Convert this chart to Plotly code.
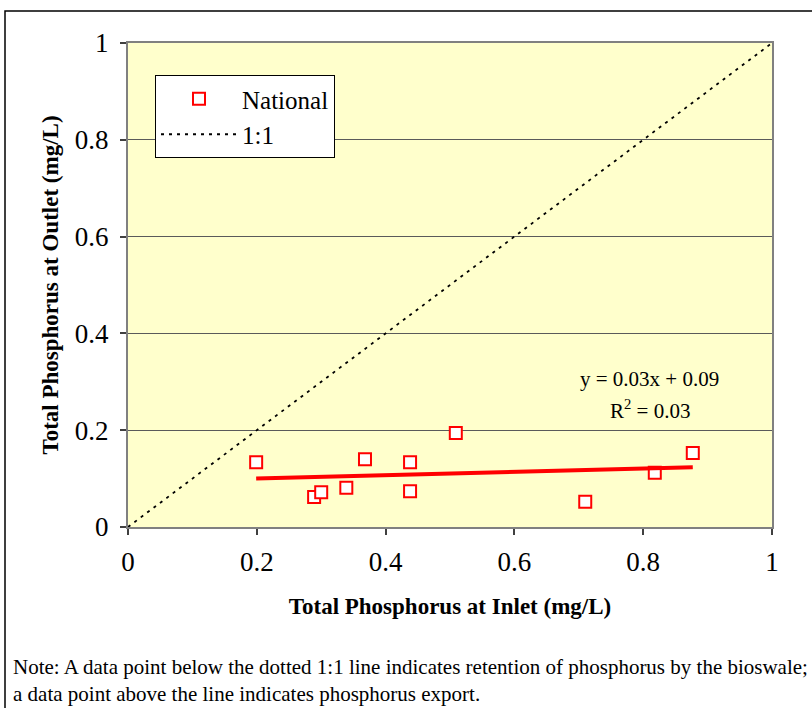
import numpy as np
import plotly.graph_objects as go

# Bioswale total phosphorus, inlet vs outlet concentration (mg/L)
inlet_tp = [0.199, 0.289, 0.300, 0.339, 0.368, 0.438, 0.438, 0.509, 0.710, 0.818, 0.877]
outlet_tp = [0.134, 0.062, 0.072, 0.081, 0.140, 0.134, 0.074, 0.194, 0.052, 0.112, 0.153]
series_name = "National"
ref_name = "1:1"
axis_ticks = [0, 0.2, 0.4, 0.6, 0.8, 1]
note_lines = [
    "Note: A data point below the dotted 1:1 line indicates retention of phosphorus by the bioswale;",
    "a data point above the line indicates phosphorus export.",
]

SERIF = "Liberation Serif, Times New Roman, serif"
W, H = 812, 708
ML, MR, MT, MB = 128, 40, 43, 181
PW, PH = W - ML - MR, H - MT - MB


def px_x(px):
    return (px - ML) / PW


def px_y(py):
    return (H - MB - py) / PH


# least-squares trend line
x = np.array(inlet_tp)
y = np.array(outlet_tp)
slope, intercept = np.polyfit(x, y, 1)
r2 = np.corrcoef(x, y)[0, 1] ** 2
fit_x = np.array([x.min(), x.max()])
fit_y = slope * fit_x + intercept

fig = go.Figure()
fig.add_trace(go.Scatter(
    x=inlet_tp, y=outlet_tp, mode="markers", name=series_name,
    marker=dict(symbol="square", size=12, color="white",
                line=dict(color="#ff0000", width=2)),
))
fig.add_trace(go.Scatter(
    x=[axis_ticks[0], axis_ticks[-1]], y=[axis_ticks[0], axis_ticks[-1]],
    mode="lines", name=ref_name,
    line=dict(color="black", width=1.8, dash="3px,5px"),
))
fig.add_trace(go.Scatter(
    x=fit_x, y=fit_y, mode="lines", showlegend=False,
    line=dict(color="#ff0000", width=4),
))

fig.add_annotation(
    x=0.81, y=px_y(379), xref="x", yref="paper", yanchor="middle",
    text=f"y = {slope:.2f}x + {intercept:.2f}", showarrow=False,
    font=dict(family=SERIF, size=21, color="black"),
)
fig.add_annotation(
    x=0.81, y=px_y(409), xref="x", yref="paper", yanchor="middle",
    text=f"R<sup>2</sup> = {r2:.2f}", showarrow=False,
    font=dict(family=SERIF, size=21, color="black"),
)

for i, line in enumerate(note_lines):
    fig.add_annotation(
        x=px_x(11), y=px_y(667 + 27 * i), xref="paper", yref="paper",
        xanchor="left", yanchor="middle", text=line, showarrow=False,
        font=dict(family=SERIF, size=21, color="black"),
    )

# outer frame around the whole chart
fig.add_shape(
    type="rect", xref="paper", yref="paper",
    x0=px_x(5), x1=px_x(830), y0=px_y(730), y1=px_y(11),
    line=dict(color="black", width=1.5), fillcolor="rgba(0,0,0,0)",
    layer="above",
)

axis_common = dict(
    range=[0, 1], tickvals=axis_ticks, ticks="outside", ticklen=6,
    tickcolor="#404040", tickwidth=1.5,
    showline=True, linecolor="#808080", linewidth=2, mirror=True,
    zeroline=False,
    tickfont=dict(family=SERIF, size=27, color="black"),
)

fig.update_xaxes(
    **axis_common, showgrid=False, ticklabelstandoff=4,
    title=dict(text="<b>Total Phosphorus at Inlet (mg/L)</b>", standoff=21,
               font=dict(family=SERIF, size=23, color="black")),
)
fig.update_yaxes(
    **axis_common, showgrid=True, gridcolor="#5a5a5a", gridwidth=1,
    ticklabelstandoff=6,
    title=dict(text="<b>Total Phosphorus at Outlet (mg/L)</b>", standoff=10,
               font=dict(family=SERIF, size=23, color="black")),
)

fig.update_layout(
    width=W, height=H,
    margin=dict(l=ML, r=MR, t=MT, b=MB),
    paper_bgcolor="white", plot_bgcolor="#ffffcc",
    font=dict(family=SERIF, color="black"),
    legend=dict(
        x=px_x(155), y=px_y(75), xanchor="left", yanchor="top",
        bgcolor="white", bordercolor="black", borderwidth=1,
        font=dict(family=SERIF, size=25, color="black"),
        itemwidth=76, tracegroupgap=0,
    ),
)

fig.write_html("out.html")
